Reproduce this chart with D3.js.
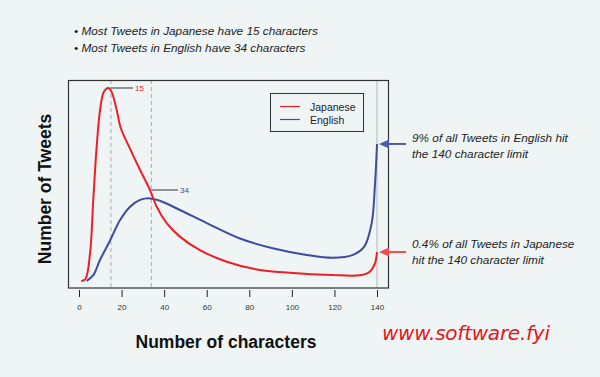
<!DOCTYPE html>
<html>
<head>
  <title>Tweet length</title>
  <script src="https://cdn.jsdelivr.net/npm/d3@7/dist/d3.min.js"></script>
  <style>
    body { margin: 0; background: #eff5f5; }
    svg { display: block; font-family: "Liberation Sans", Arial, sans-serif; }
  </style>
</head>
<body>
<svg width="600" height="377"></svg>

<script>
  // data (y in arbitrary units, Japanese peak = 100)
  var jpChars = [1, 3, 5.2, 6.7, 8.3, 9.9, 11.7, 13.8, 15.3, 17.7, 19.7, 24, 28.7, 33.4, 36.5, 41.2, 47.4, 56.8, 69.4, 83.5, 99, 119, 132, 136.6, 139, 140];
  var jpValues = [0, 1, 14.5, 42, 69.6, 88.6, 98, 100, 98, 88.6, 79, 68.5, 57.5, 47, 38.5, 30, 23, 16, 10, 6, 4.3, 3.1, 3, 4.8, 9, 15];
  var enChars = [3.6, 6.7, 9.9, 14.6, 19.3, 24, 28.7, 33.4, 38, 47.4, 60, 75.6, 91, 107, 119, 128.7, 134, 137.5, 139, 140];
  var enValues = [0, 3, 11, 21, 31.6, 38.5, 42, 42.8, 41.6, 36.8, 30, 22, 17, 13.5, 12, 13.5, 17.8, 30, 49, 71];
  var xTicks = [0, 20, 40, 60, 80, 100, 120, 140];
  var modes = [15, 34];
  var legendNames = ["Japanese", "English"];
  var bullets = ["Most Tweets in Japanese have 15 characters", "Most Tweets in English have 34 characters"];

  var red = "#f01e24", blue = "#3d4ba3";

  var svg = d3.select("svg");

  var x = d3.scaleLinear().domain([0, 140]).range([79, 377]);
  var y = d3.scaleLinear().domain([0, 100]).range([281, 88]);

  // 顶部说明
  svg.selectAll(".bullet").data(bullets).enter().append("text")
    .attr("x", 74)
    .attr("y", function(d, i) { return 35 + i * 17; })
    .style("font-size", "11.8px")
    .style("font-style", "italic")
    .style("fill", "#222")
    .text(function(d) { return "\u2022 " + d; });

  // 140 limit line
  svg.append("line")
    .attr("x1", x(140)).attr("x2", x(140))
    .attr("y1", 80).attr("y2", 288)
    .style("stroke", "#d2d6d6").style("stroke-width", 2);

  // dashed lines at the modes
  svg.selectAll(".mode").data(modes).enter().append("line")
    .attr("x1", function(d) { return x(d); })
    .attr("x2", function(d) { return x(d); })
    .attr("y1", 80).attr("y2", 288)
    .style("stroke", "#aaa")
    .style("stroke-dasharray", "4,3");

  // 曲线
  var line = d3.line()
    .x(function(d) { return x(d[0]); })
    .y(function(d) { return y(d[1]); })
    .curve(d3.curveCatmullRom.alpha(0.5));

  svg.append("path")
    .datum(d3.zip(enChars, enValues))
    .attr("d", line)
    .style("fill", "none").style("stroke", blue).style("stroke-width", 2);

  svg.append("path")
    .datum(d3.zip(jpChars, jpValues))
    .attr("d", line)
    .style("fill", "none").style("stroke", red).style("stroke-width", 2);

  // plot box
  svg.append("rect")
    .attr("x", 68.5).attr("y", 80.5)
    .attr("width", 320).attr("height", 207.5)
    .style("fill", "none").style("stroke", "#333").style("stroke-width", 1.2);

  // x axis
  var xAxis = d3.axisBottom(x).tickValues(xTicks).tickSize(7).tickPadding(7);
  var gx = svg.append("g").attr("transform", "translate(0,290)").call(xAxis);
  gx.select(".domain").remove();
  gx.selectAll("line").style("stroke", "#222");
  gx.selectAll("text").style("font-size", "8px").style("fill", "#333")
    .style("font-family", "Liberation Sans, Arial, sans-serif");

  // mode labels
  var jpPeakY = y(100);
  svg.append("line").attr("x1", x(15)).attr("x2", 133).attr("y1", jpPeakY).attr("y2", jpPeakY)
    .style("stroke", "#333");
  svg.append("text").attr("x", 135).attr("y", jpPeakY + 3)
    .style("font-size", "8px").style("fill", red).text(modes[0]);
  var enModeY = 190;
  svg.append("line").attr("x1", x(34)).attr("x2", 178).attr("y1", enModeY).attr("y2", enModeY)
    .style("stroke", "#333");
  svg.append("text").attr("x", 180).attr("y", enModeY + 3)
    .style("font-size", "8px").style("fill", blue).text(modes[1]);

  // legend
  svg.append("rect")
    .attr("x", 270.5).attr("y", 93.5).attr("width", 93).attr("height", 38)
    .style("fill", "#eff5f5").style("stroke", "#333");
  var legColors = [red, blue];
  legendNames.forEach(function(name, i) {
    var ly = 106.5 + i * 13;
    svg.append("line").attr("x1", 280).attr("x2", 300).attr("y1", ly).attr("y2", ly)
      .style("stroke", legColors[i]).style("stroke-width", 1.2);
    svg.append("text").attr("x", 310).attr("y", ly + 4)
      .style("font-size", "10.5px").style("fill", "#222").text(name);
  });

  // axis titles
  svg.append("text")
    .attr("transform", "translate(51,189) rotate(-90)")
    .attr("text-anchor", "middle")
    .style("font-size", "17.5px").style("font-weight", "bold").style("fill", "#111")
    .text("Number of Tweets");
  svg.append("text")
    .attr("x", 226).attr("y", 348)
    .attr("text-anchor", "middle")
    .style("font-size", "17.5px").style("font-weight", "bold").style("fill", "#111")
    .text("Number of characters");

  // arrows + notes on the right
  var notes = [
    { yv: 71, col: "#4b5bb3", lines: ["9% of all Tweets in English hit", "the 140 character limit"], ty: 142 },
    { yv: 15, col: "#f0504c", lines: ["0.4% of all Tweets in Japanese", "hit the 140 character limit"], ty: 248 }
  ];
  notes.forEach(function(n) {
    var ay = y(n.yv);
    svg.append("line")
      .attr("x1", 406).attr("x2", 386).attr("y1", ay).attr("y2", ay)
      .style("stroke", n.col).style("stroke-width", 2);
    svg.append("path")
      .attr("d", "M379," + ay + " L389," + (ay - 4.5) + " L389," + (ay + 4.5) + " Z")
      .style("fill", n.col);
    n.lines.forEach(function(t, i) {
      svg.append("text").attr("x", 412).attr("y", n.ty + i * 15.5)
        .style("font-size", "11.8px").style("font-style", "italic").style("fill", "#222")
        .text(t);
    });
  });

  // watermark
  svg.append("text")
    .attr("x", 382).attr("y", 340)
    .attr("textLength", 168)
    .style("font-family", "'Comic Sans MS', 'DejaVu Sans', cursive")
    .style("font-style", "italic")
    .style("font-size", "20px").style("fill", "#e8141c")
    .text("www.software.fyi");
</script>
</body>
</html>
